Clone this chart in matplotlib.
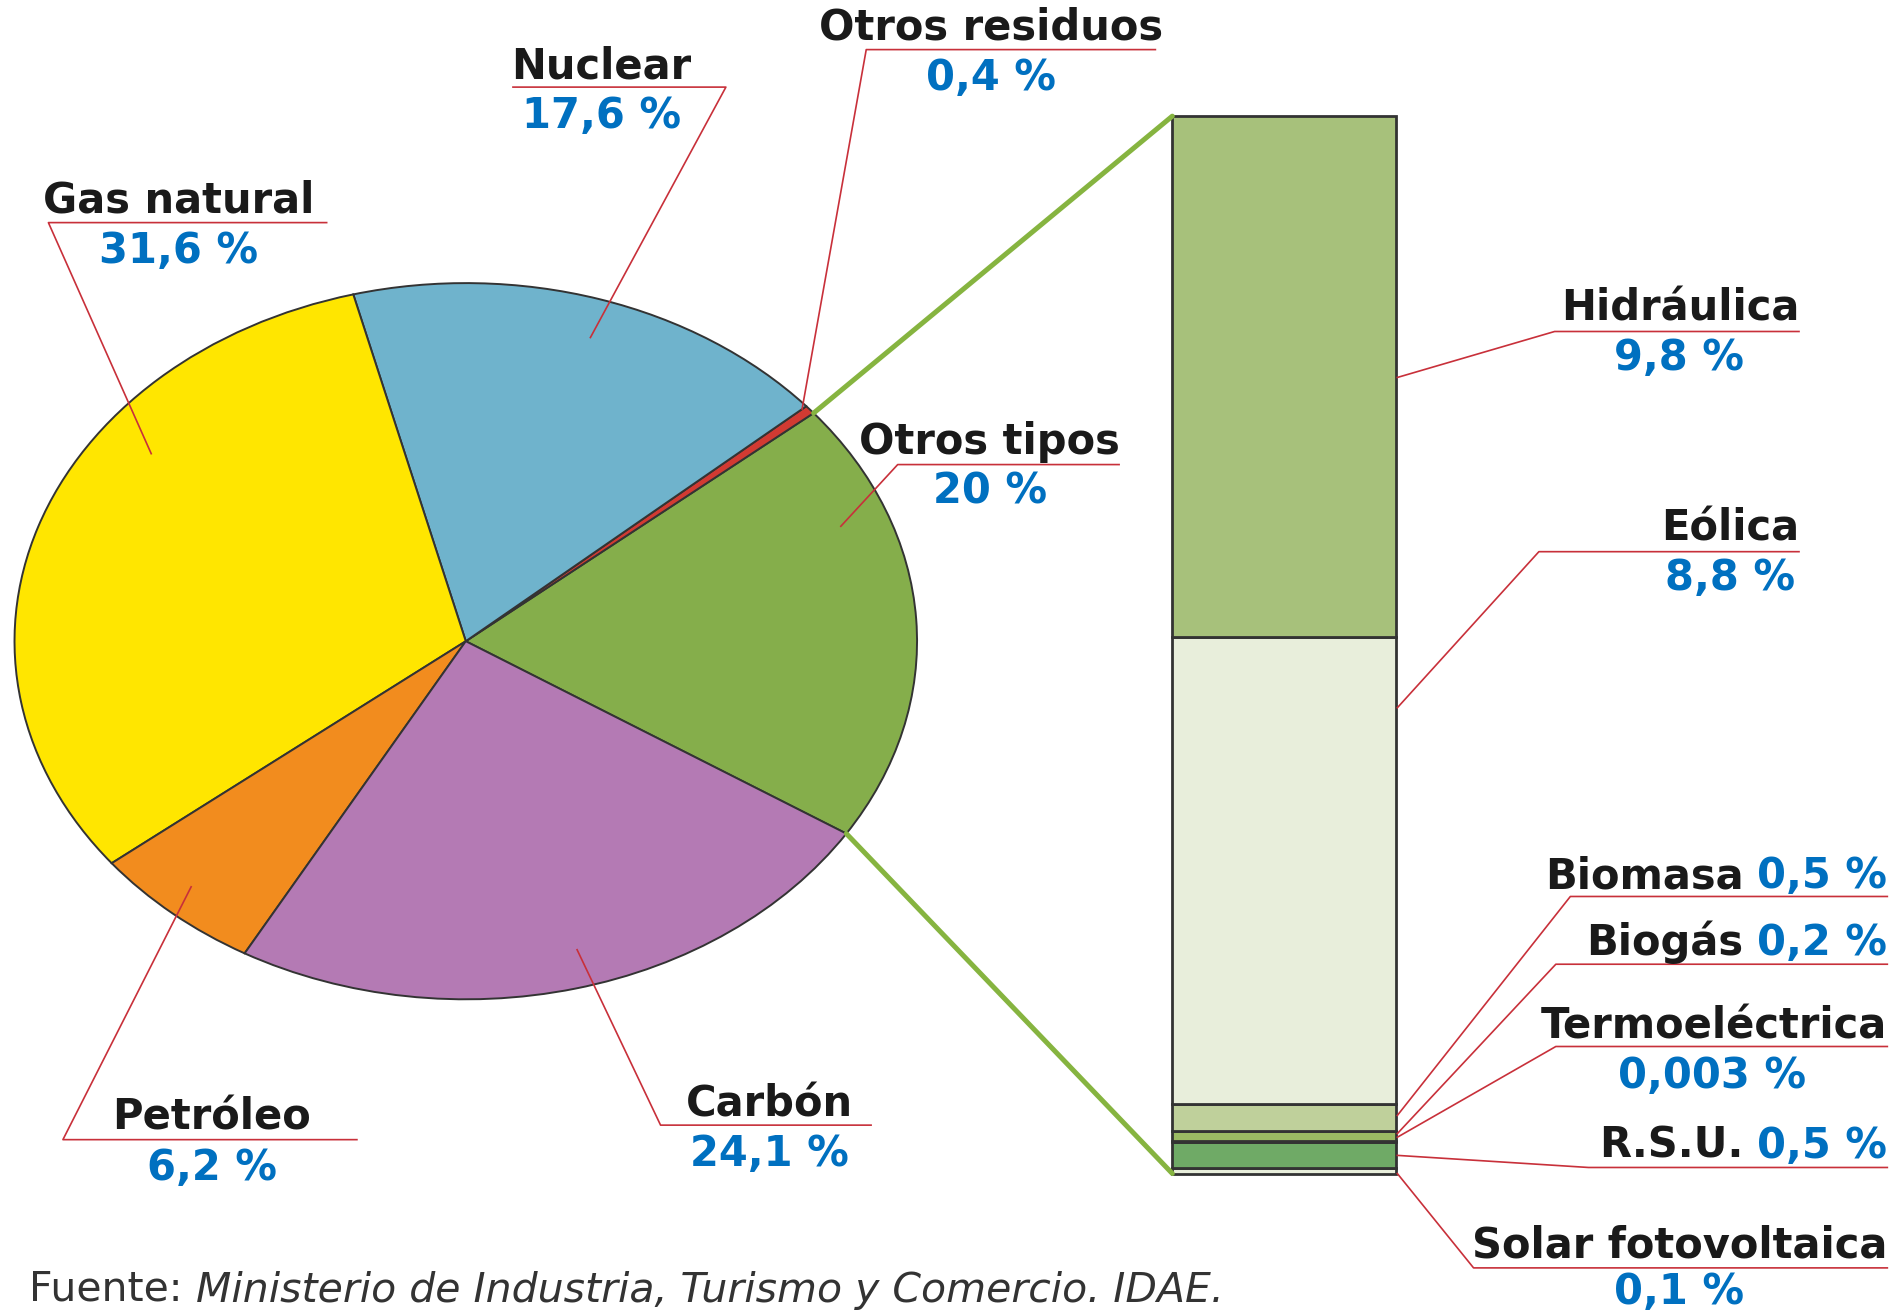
import numpy as np
import matplotlib.pyplot as plt
from matplotlib.patches import ConnectionPatch

# data
pie_labels = ['Otros tipos', 'Otros residuos', 'Nuclear', 'Gas natural', 'Petróleo', 'Carbón']
pie_values = [20, 0.4, 17.6, 31.6, 6.2, 24.1]
pie_text = ['20 %', '0,4 %', '17,6 %', '31,6 %', '6,2 %', '24,1 %']
pie_colors = ['#85ae4b', '#d23a32', '#6fb3cc', '#ffe600', '#f28c1e', '#b47ab4']

# stacked bar, bottom to top
bar_labels = ['Solar fotovoltaica', 'R.S.U.', 'Termoeléctrica', 'Biogás', 'Biomasa', 'Eólica', 'Hidráulica']
bar_values = [0.1, 0.5, 0.003, 0.2, 0.5, 8.8, 9.8]
bar_text = ['0,1 %', '0,5 %', '0,003 %', '0,2 %', '0,5 %', '8,8 %', '9,8 %']
bar_colors = ['#e8eedb', '#6faa66', '#9bbb63', '#9bbb63', '#bfd09b', '#e8eedb', '#a7c17b']

W, H = 1897, 1313
S = W / 1568  # layout measured on the 1568 px preview

RED = '#c8303a'
BLUE = '#0070c0'
FS = 30

fig = plt.figure(figsize=(W / 100, H / 100), dpi=100)

# pie drawn as an ellipse
cx, cy, rx, ry = 385 * S, 530 * S, 373 * S, 296 * S
ax_pie = fig.add_axes([(cx - rx) / W, 1 - (cy + ry) / H, 2 * rx / W, 2 * ry / H])
start = -32.5
ax_pie.pie(pie_values, colors=pie_colors, startangle=start, counterclock=True,
           wedgeprops=dict(edgecolor='#333333', linewidth=1.4, clip_on=False))
ax_pie.set_aspect('auto')
ax_pie.set_xlim(-1, 1)
ax_pie.set_ylim(-1, 1)
ax_pie.axis('off')

# stacked bar for "Otros tipos"
bx0, bx1, by0, by1 = 969 * S, 1154 * S, 96 * S, 970 * S
ax_bar = fig.add_axes([bx0 / W, 1 - by1 / H, (bx1 - bx0) / W, (by1 - by0) / H])
bottoms = np.concatenate([[0], np.cumsum(bar_values)[:-1]])
total = sum(bar_values)
ax_bar.bar(np.zeros(len(bar_values)), bar_values, bottom=bottoms, width=1,
           color=bar_colors, edgecolor='#333333', linewidth=2, clip_on=False)
ax_bar.set_xlim(-0.5, 0.5)
ax_bar.set_ylim(0, total)
ax_bar.axis('off')

# green connectors from the "Otros tipos" slice to the bar
tot = sum(pie_values)
a_end = np.radians(start + 360 * pie_values[0] / tot)
a_start = np.radians(start)
for a, yb in [(a_end, total), (a_start, 0)]:
    con = ConnectionPatch(xyA=(np.cos(a), np.sin(a)), coordsA=ax_pie.transData,
                          xyB=(-0.5, yb), coordsB=ax_bar.transData,
                          color='#86b440', lw=3.6)
    fig.add_artist(con)

# overlay for labels and leader lines (preview pixel coords)
ax = fig.add_axes([0, 0, 1, 1])
ax.set_xlim(0, W)
ax.set_ylim(H, 0)
ax.axis('off')


def leader(pts):
    xs = [p[0] * S for p in pts]
    ys = [p[1] * S for p in pts]
    ax.plot(xs, ys, color=RED, lw=1.2)


def two_line(name, val, x, y, ha='center', vx=None, gap=41):
    ax.text(x * S, y * S, name, fontsize=FS, fontweight='bold', color='#1a1a1a',
            ha=ha, va='baseline')
    ax.text((vx if vx else x) * S, (y + gap) * S, val, fontsize=FS, fontweight='bold',
            color=BLUE, ha='center', va='baseline')


# pie labels: name position, underline + leader path
pie_layout = {
    'Gas natural': ((148, 176), [(270, 184), (40, 184), (125, 375)]),
    'Nuclear': ((497, 65), [(424, 72), (600, 72), (488, 279)]),
    'Otros residuos': ((819, 33), [(955, 41), (716, 41), (663, 338)]),
    'Otros tipos': ((818, 375), [(925, 384), (742, 384), (695, 435)]),
    'Carbón': ((636, 923), [(720, 930), (546, 930), (477, 785)]),
    'Petróleo': ((175, 934), [(295, 942), (52, 942), (158, 733)]),
}
for name, val in zip(pie_labels, pie_text):
    (tx, ty), pts = pie_layout[name]
    two_line(name, val, tx, ty)
    leader(pts)

# bar labels
two_line('Hidráulica', '9,8 %', 1487, 265, ha='right', vx=1388)
leader([(1487, 274), (1285, 274), (1155, 312)])
two_line('Eólica', '8,8 %', 1487, 447, ha='right', vx=1430)
leader([(1487, 456), (1272, 456), (1155, 585)])
two_line('Termoeléctrica', '0,003 %', 1560, 858, ha='right', vx=1415)
leader([(1560, 865), (1286, 865), (1155, 940)])
two_line('Solar fotovoltaica', '0,1 %', 1560, 1039, ha='right', vx=1388, gap=39)
leader([(1560, 1048), (1218, 1048), (1155, 970)])

one_line = {
    'Biomasa': (734, [(1560, 741), (1298, 741), (1155, 922)]),
    'Biogás': (789, [(1560, 797), (1286, 797), (1155, 937)]),
    'R.S.U.': (957, [(1560, 965), (1313, 965), (1155, 955)]),
}
for name, val in zip(bar_labels, bar_text):
    if name not in one_line:
        continue
    y, pts = one_line[name]
    vt = ax.text(1560 * S, y * S, val, fontsize=FS, fontweight='bold', color=BLUE,
                 ha='right', va='baseline')
    ax.annotate(name, xy=(0, 0), xycoords=vt, xytext=(-10, 0), textcoords='offset points',
                fontsize=FS, fontweight='bold', color='#1a1a1a', ha='right', va='bottom')
    leader(pts)

# source note
ft = ax.text(24 * S, 1075 * S, 'Fuente: ', fontsize=29.5, color='#333333', va='baseline')
ax.annotate('Ministerio de Industria, Turismo y Comercio. IDAE.', xy=(1, 0), xycoords=ft,
            fontsize=29.5, color='#333333', style='italic', ha='left', va='bottom')

fig.savefig('out.png', dpi=100)
